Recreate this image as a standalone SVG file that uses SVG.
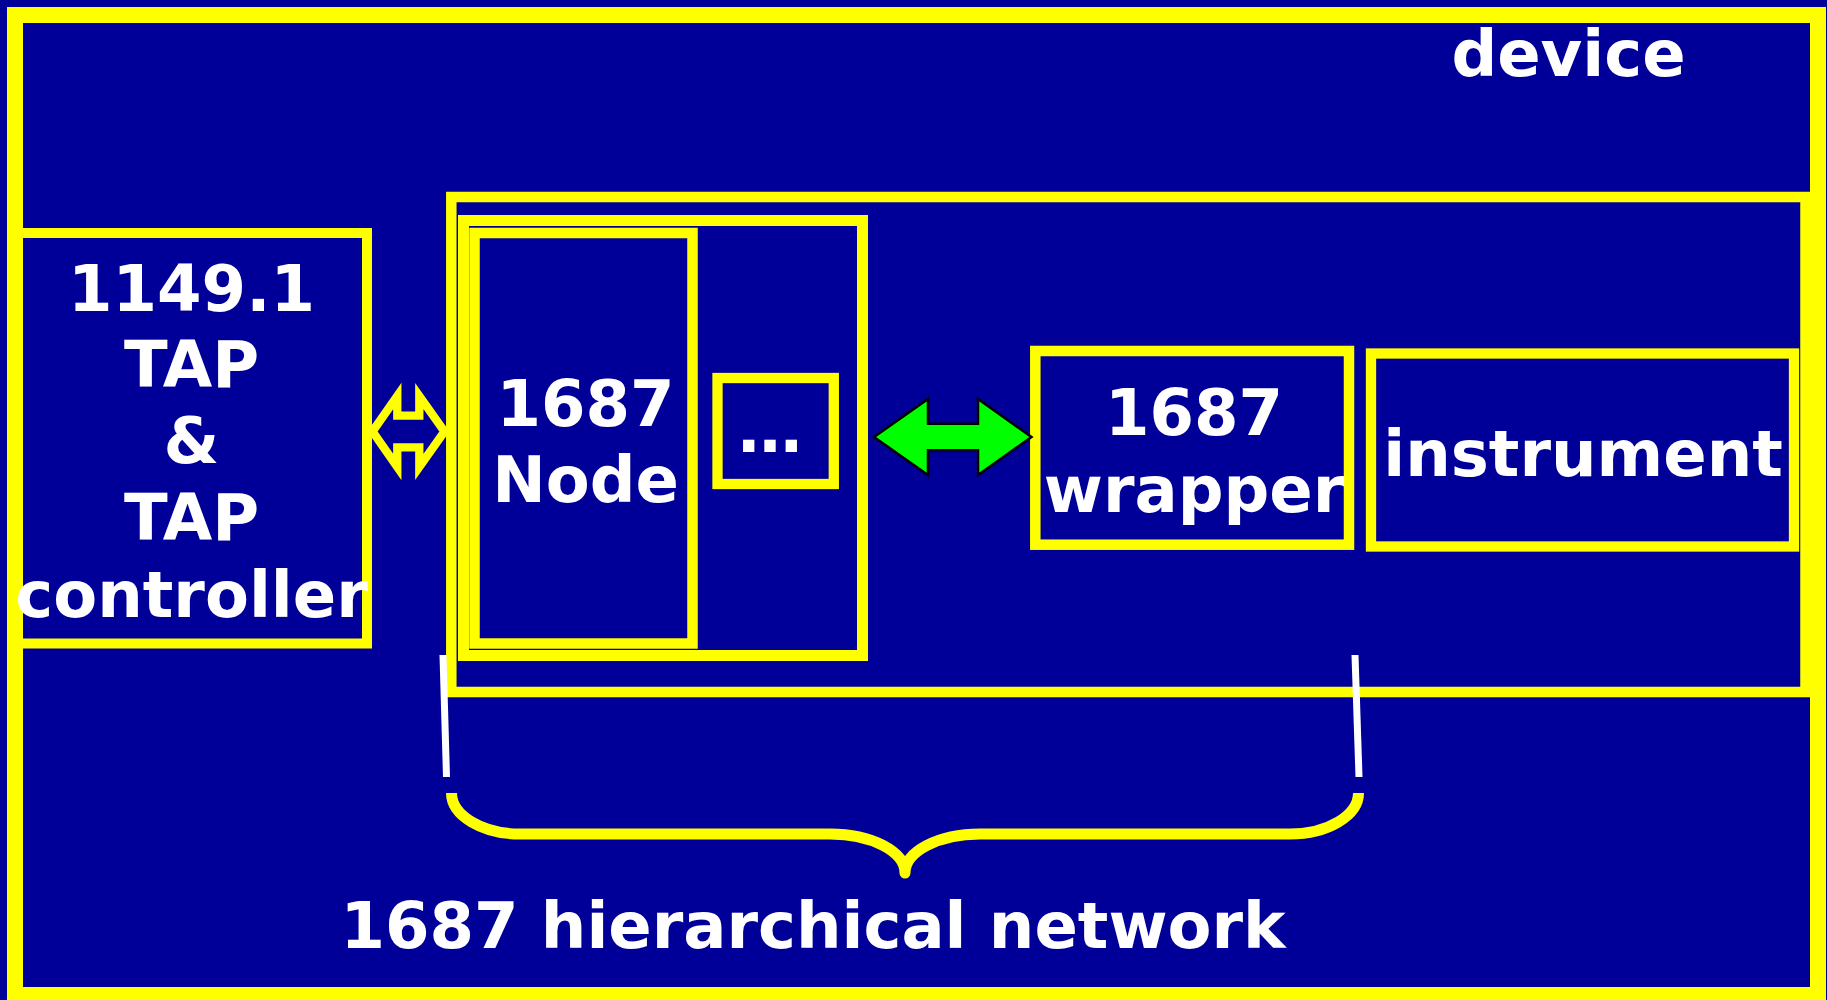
<svg xmlns="http://www.w3.org/2000/svg" width="1827" height="1000" viewBox="0 0 1827 1000">
<style>
.box{fill:#000099;stroke:#FFFF00;stroke-linejoin:miter}
.lbl{font-family:"DejaVu Sans","Verdana",sans-serif;font-weight:bold;font-size:64px;fill:#FFFFFF;text-anchor:middle}
</style>
<rect x="0" y="0" width="1827" height="1000" fill="#000099"/>
<g id="device">
<rect class="box" x="15" y="15" width="1803" height="980" stroke-width="16"/>
<text class="lbl" x="1568.5" y="76">device</text>
</g>
<g id="tap">
<rect class="box" x="18" y="233" width="349" height="410.5" stroke-width="10"/>
<text class="lbl" x="191.5" y="311">1149.1</text>
<text class="lbl" x="191.5" y="387">TAP</text>
<text class="lbl" x="191.5" y="463">&amp;</text>
<text class="lbl" x="191.5" y="540">TAP</text>
<text class="lbl" x="191.5" y="617">controller</text>
</g>
<g id="network">
<rect class="box" x="451.3" y="197" width="1354.2" height="495" stroke-width="10.5"/>
</g>
<g id="node-container">
<rect class="box" x="463.5" y="220.5" width="399" height="435" stroke-width="11"/>
</g>
<g id="node">
<rect class="box" x="474.5" y="233" width="218" height="410.5" stroke-width="10.5"/>
<text class="lbl" x="585.5" y="426">1687</text>
<text class="lbl" x="585.5" y="502">Node</text>
</g>
<g id="more">
<rect class="box" x="717.5" y="378" width="116.3" height="106" stroke-width="10.3"/>
<text class="lbl" x="770" y="452">…</text>
</g>
<g id="wrapper">
<rect class="box" x="1035.3" y="351" width="313.7" height="193.7" stroke-width="10.5"/>
<text class="lbl" x="1194" y="435">1687</text>
<text class="lbl" x="1194" y="512">wrapper</text>
</g>
<g id="instrument">
<rect class="box" x="1371" y="353.5" width="423" height="193" stroke-width="10.3"/>
<text class="lbl" x="1583" y="476">instrument</text>
</g>
<g id="connectors">
<polygon points="372.5,431.5 397.3,396 397.3,415.7 419.3,415.7 419.3,396 444.5,431.5 419.3,467 419.3,447.3 397.3,447.3 397.3,467" fill="none" stroke="#FFFF00" stroke-width="8.3" stroke-linejoin="miter" stroke-miterlimit="10"/>
<polygon points="874,437 928,399 928,423.7 978,423.7 978,399 1031.5,437 978,475 978,450.3 928,450.3 928,475" fill="#00FF00" stroke="#000000" stroke-width="2.5" stroke-linejoin="miter"/>
</g>
<g id="brace">
<line x1="443" y1="655" x2="446.5" y2="777" stroke="#FFFFFF" stroke-width="7"/>
<line x1="1355" y1="655" x2="1359" y2="777" stroke="#FFFFFF" stroke-width="7"/>
<path d="M451.5,793 C451.5,815.6 482.5,834 520,834 L830,834 C871.4,834 905,851.5 905,873 C905,851.5 938.6,834 980,834 L1290,834 C1327.5,834 1358.5,815.6 1358.5,793" fill="none" stroke="#FFFF00" stroke-width="11" stroke-linejoin="round"/>
<text class="lbl" x="813" y="948">1687 hierarchical network</text>
</g>
</svg>
